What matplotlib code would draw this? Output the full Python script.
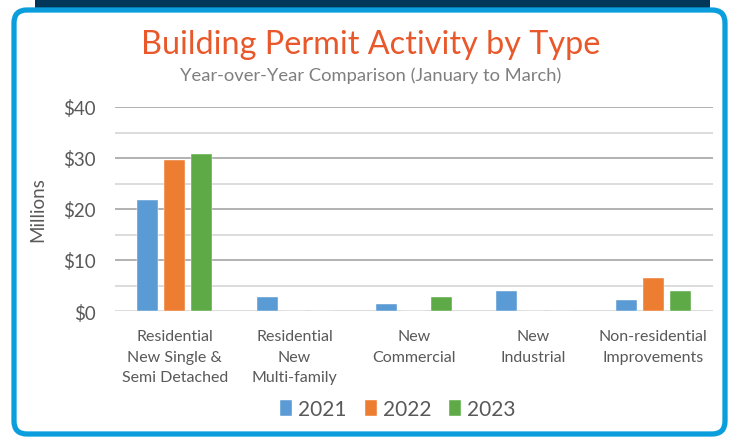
import numpy as np
import matplotlib.pyplot as plt
from matplotlib.patches import FancyBboxPatch, Rectangle

plt.rcParams['font.family'] = ['Lato', 'DejaVu Sans']

# data (millions of dollars, January to March)
categories = ['Residential\nNew Single &\nSemi Detached', 'Residential\nNew\nMulti-family',
              'New\nCommercial', 'New\nIndustrial', 'Non-residential\nImprovements']
years = ['2021', '2022', '2023']
v2021 = [21.8, 2.8, 1.4, 3.9, 2.1]
v2022 = [29.6, 0, 0, 0, 6.4]
v2023 = [30.8, 0, 2.8, 0, 3.9]
yticks = [0, 10, 20, 30, 40]
ytick_labels = ['$0', '$10', '$20', '$30', '$40']

colors = ['#5B9BD5', '#ED7D31', '#5DAA47']
text_gray = '#595959'

W, H = 731, 439
fig = plt.figure(figsize=(W / 100, H / 100), dpi=100)

# background frame drawn in pixel units
bg = fig.add_axes([0, 0, 1, 1])
bg.set_xlim(0, W)
bg.set_ylim(0, H)
bg.axis('off')
bg.add_patch(Rectangle((35, H - 9), 675, 9, color='#03375A', lw=0))
bg.add_patch(FancyBboxPatch((14, 4), 711, H - 15, boxstyle='round,pad=0,rounding_size=13',
                            fc='white', ec='#0A9FDC', lw=3.8))

fig.text(371 / W, 1 - 45 / H, 'Building Permit Activity by Type', ha='center', va='center',
         fontsize=23.3, color='#E8582A')
fig.text(371 / W, 1 - 76 / H, 'Year-over-Year Comparison (January to March)', ha='center',
         va='center', fontsize=13.2, color='#7F7F7F')

ax = fig.add_axes([115 / W, 127 / H, 598 / W, 204 / H])
x = np.arange(len(categories))
step = 0.226
width = 0.176
for i, (vals, yr) in enumerate(zip([v2021, v2022, v2023], years)):
    ax.bar(x + (i - 1) * step, vals, width, color=colors[i], label=yr, zorder=3,
           edgecolor='white', linewidth=0.3)

ax.set_xlim(-0.5, 4.5)
ax.set_ylim(0, 40)
for y in range(5, 40, 10):
    ax.axhline(y, color='#D9D9D9', lw=1.3, zorder=1)
for y in range(10, 41, 10):
    ax.axhline(y, color='#ABABAB', lw=1.3, zorder=1)
ax.axhline(0, color='#D9D9D9', lw=1.3, zorder=1)

ax.set_yticks(yticks)
ax.set_yticklabels(ytick_labels, fontsize=13.5, color=text_gray)
ax.set_xticks(x)
ax.set_xticklabels(categories, fontsize=11.5, color=text_gray, linespacing=1.6, va='top')
ax.tick_params(length=0, pad=14, axis='y')
ax.tick_params(length=0, pad=13, axis='x')
for s in ax.spines.values():
    s.set_visible(False)
ax.set_ylabel('Millions', fontsize=13.5, color=text_gray, labelpad=12)

leg = fig.legend(loc='center', bbox_to_anchor=(398 / W, 1 - 410 / H), ncol=3, frameon=False,
                 fontsize=15, handlelength=0.58, handleheight=0.8, handletextpad=0.3,
                 columnspacing=0.85, labelcolor=text_gray)

fig.savefig('out.png', dpi=100)
